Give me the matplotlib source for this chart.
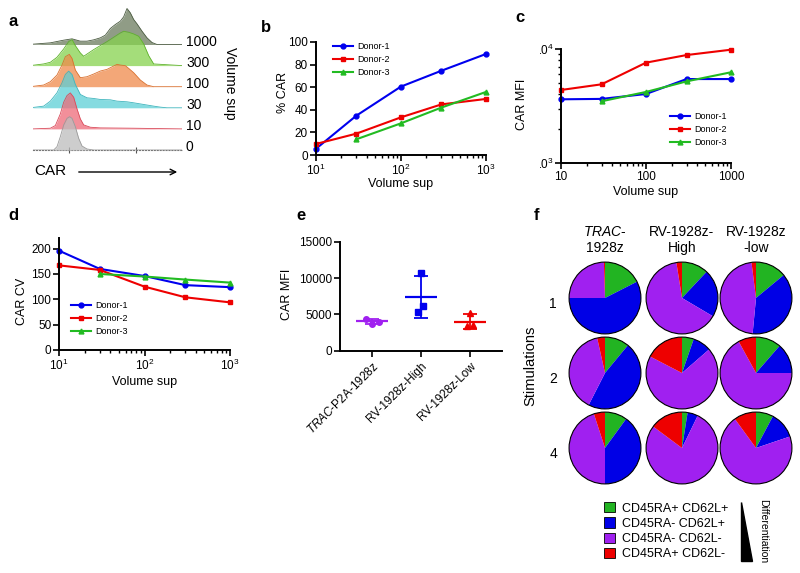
import numpy as np
import matplotlib
matplotlib.use("Agg")
import matplotlib.pyplot as plt
from matplotlib.patches import Patch, Polygon, Circle, FancyArrowPatch
from matplotlib.ticker import FuncFormatter, NullFormatter
from matplotlib.transforms import Bbox, TransformedBbox

plt.rcParams['font.family'] = ['Liberation Sans', 'DejaVu Sans']
plt.rcParams['mathtext.fontset'] = 'custom'
plt.rcParams['mathtext.rm'] = 'Liberation Sans'
plt.rcParams['mathtext.it'] = 'Liberation Sans:italic'

# ---------------- data ----------------
volume = [10, 30, 100, 300, 1000]

# panel a: histogram outlines (log10 CAR, height)
ridge_labels = ['0', '10', '30', '100', '300', '1000']
h0_x = [0.91, 1.53, 1.63, 1.73, 1.83, 1.93, 2.01, 2.08, 2.18, 2.28, 2.38, 2.53, 2.73, 5.38]
h0_y = [0, 0, 10, 40, 75, 95, 100, 95, 70, 35, 12, 3, 0, 0]
h10_x = [0.91, 1.43, 1.58, 1.73, 1.83, 1.93, 2.03, 2.13, 2.23, 2.33, 2.43, 2.63, 2.93, 3.93, 5.38]
h10_y = [0, 2, 10, 45, 80, 100, 108, 95, 60, 30, 12, 5, 3, 2, 0]
h30_x = [0.91, 1.23, 1.43, 1.63, 1.78, 1.88, 1.98, 2.08, 2.18, 2.33, 2.53, 2.73, 2.93, 3.23,
         3.43, 3.73, 3.93, 4.23, 4.53, 4.73, 4.93, 5.38]
h30_y = [1, 5, 20, 45, 75, 100, 110, 100, 70, 40, 30, 28, 25, 24, 20, 18, 15, 10, 5, 2, 0, 0]
h100_x = [0.91, 1.23, 1.43, 1.63, 1.78, 1.88, 2.0, 2.08, 2.18, 2.33, 2.53, 2.73, 2.93, 3.13,
          3.33, 3.43, 3.53, 3.68, 3.78, 3.93, 4.13, 4.33, 4.53, 5.38]
h100_y = [1, 5, 15, 35, 65, 90, 97, 85, 50, 27, 30, 38, 47, 52, 62, 67, 65, 63, 55, 42, 20, 5, 0, 0]
h300_x = [0.91, 1.23, 1.43, 1.63, 1.83, 1.98, 2.08, 2.18, 2.33, 2.43, 2.58, 2.73, 2.93, 3.13,
          3.33, 3.53, 3.63, 3.78, 3.93, 4.08, 4.23, 4.38, 4.53, 5.38]
h300_y = [1, 5, 10, 25, 50, 72, 78, 60, 38, 28, 38, 48, 60, 72, 85, 98, 103, 100, 95, 88, 65, 30, 5, 0]
h1000_x = [0.91, 1.43, 1.83, 2.08, 2.33, 2.53, 2.73, 2.93, 3.08, 3.23, 3.38, 3.53, 3.63, 3.73,
           3.83, 3.93, 4.03, 4.18, 4.33, 4.48, 4.63, 5.38]
h1000_y = [1, 5, 13, 17, 10, 10, 14, 20, 28, 48, 60, 70, 83, 108, 95, 75, 62, 40, 20, 6, 0, 0]
ridge_face = ['#BDBDBD', '#EE6A78', '#5CCFD6', '#F08A4B', '#86D24E', '#6B7B5E']
ridge_edge = ['#9A9A9A', '#D94A5A', '#3FB5BD', '#D9702F', '#5FB22C', '#4A5A40']

# panel b: % CAR
car_pct_d1 = [5.3, 34.8, 60.5, 74.6, 89.4]
car_pct_d2 = [9.7, 18.9, 33.3, 44.8, 49.6]
car_pct_d3 = [13.9, 28.0, 42.0, 55.8]

# panel c: CAR MFI
car_mfi_d1 = [3620, 3650, 4030, 5450, 5450]
car_mfi_d2 = [4370, 4900, 7590, 8850, 9860]
car_mfi_d3 = [3480, 4200, 5200, 6250]

# panel d: CAR CV
car_cv_d1 = [196, 160, 146, 128, 124]
car_cv_d2 = [167, 158, 125, 104, 94]
car_cv_d3 = [150, 145, 139, 133]

donors = ['Donor-1', 'Donor-2', 'Donor-3']
donor_colors = ['#0000EE', '#EE0000', '#22BB22']
donor_markers = ['o', 's', '^']

# panel e: CAR MFI per construct
constructs = [r'$\mathit{TRAC}$-P2A-1928z', 'RV-1928z-High', 'RV-1928z-Low']
mfi_trac = [4370, 3720, 3990]
mfi_high = [10740, 6150, 5330]
mfi_low = [5150, 3360, 3500]
jitter_trac = [-0.13, 0.0, 0.14]
jitter_high = [0.0, 0.05, -0.07]
jitter_low = [0.0, -0.06, 0.06]
construct_colors = ['#A020F0', '#0000EE', '#EE0000']

# panel f: subsets (%), order: RA+62L+, RA-62L+, RA-62L-, RA+62L-
pie_headers = [r'$\mathit{TRAC}$-' + '\n1928z', 'RV-1928z-\nHigh', 'RV-1928z\n-low']
stim_labels = ['1', '2', '4']
trac_stim1 = [17.5, 57.5, 24.5, 0.5]
trac_stim2 = [11.0, 46.5, 39.0, 3.5]
trac_stim4 = [10.0, 40.0, 45.0, 5.0]
high_stim1 = [12.0, 21.5, 64.0, 2.5]
high_stim2 = [5.3, 8.3, 69.0, 17.4]
high_stim4 = [2.5, 4.7, 78.0, 14.8]
low_stim1 = [14.0, 37.5, 46.5, 2.0]
low_stim2 = [11.4, 13.6, 67.0, 8.0]
low_stim4 = [7.8, 12.0, 70.2, 10.0]
subset_labels = ['CD45RA+ CD62L+', 'CD45RA- CD62L+', 'CD45RA- CD62L-', 'CD45RA+ CD62L-']
subset_colors = ['#22B422', '#0000E6', '#A020F0', '#EE0000']

# ---------------- layout helpers ----------------
W, H = 800, 573
fig = plt.figure(figsize=(8, 5.73), dpi=100)


def rect(x0, y0, x1, y1):
    return [x0 / W, 1 - y1 / H, (x1 - x0) / W, (y1 - y0) / H]


def fx(x):
    return x / W


def fy(y):
    return 1 - y / H


def style_axes(ax):
    for s in ['top', 'right']:
        ax.spines[s].set_visible(False)
    for s in ['left', 'bottom']:
        ax.spines[s].set_linewidth(1.4)
    ax.tick_params(which='major', length=4, width=1.2, labelsize=8.5, pad=1.5)
    ax.tick_params(which='minor', length=2.5, width=1.0)


def donor_legend(ax, x, y):
    ax.legend(loc='upper left', bbox_to_anchor=(fx(x), fy(y)), bbox_transform=fig.transFigure,
              frameon=False, fontsize=6.5, handlelength=2.2, handletextpad=0.5,
              labelspacing=0.45, borderpad=0, borderaxespad=0)


# panel letters
for lab, px, py in [('a', 13, 22), ('b', 266, 28), ('c', 520, 18),
                    ('d', 13, 215), ('e', 301, 216), ('f', 537, 216)]:
    fig.text(fx(px), fy(py), lab, fontsize=12, fontweight='bold', ha='center', va='center')

# ---------------- panel a ----------------
ax_a = fig.add_axes(rect(33, 5, 182, 150))
ridge_x = [h0_x, h10_x, h30_x, h100_x, h300_x, h1000_x]
ridge_y = [h0_y, h10_y, h30_y, h100_y, h300_y, h1000_y]
step = 21.1
for i in reversed(range(6)):
    off = i * step
    xs = 10 ** np.array(ridge_x[i])
    ys = off + np.array(ridge_y[i]) / 3.0
    ax_a.fill_between(xs, off, ys, color=ridge_face[i], alpha=0.75, lw=0, zorder=10 - i)
    ax_a.plot(xs, ys, color=ridge_edge[i], lw=0.6, zorder=10 - i)
    fig.text(fx(186), fy(150 - off - 3), ridge_labels[i], fontsize=10, ha='left', va='center')
ax_a.set_xscale('log')
ax_a.set_xlim(10 ** 0.91, 10 ** 5.38)
ax_a.set_ylim(0, 145)
for s in ['top', 'right', 'left']:
    ax_a.spines[s].set_visible(False)
ax_a.spines['bottom'].set_color('#777777')
ax_a.spines['bottom'].set_linestyle(':')
ax_a.spines['bottom'].set_linewidth(0.8)
ax_a.set_yticks([])
ax_a.tick_params(which='major', direction='inout', length=4, width=0.8, color='#555555',
                 labelbottom=False)
ax_a.tick_params(which='minor', direction='inout', length=2, width=0.6, color='#777777')
ax_a.patch.set_alpha(0)
fig.text(fx(230), fy(83), 'Volume sup', fontsize=10, rotation=270, ha='center', va='center')
fig.text(fx(34), fy(171), 'CAR', fontsize=11, ha='left', va='center')
fig.add_artist(FancyArrowPatch((fx(76), fy(172)), (fx(180), fy(172)), transform=fig.transFigure,
                               arrowstyle='->', mutation_scale=10, lw=1.0, color='black'))

# ---------------- panel b ----------------
ax_b = fig.add_axes(rect(315.7, 42, 486, 155))
ax_b.plot(volume, car_pct_d1, color=donor_colors[0], marker='o', ms=3.5, lw=1.5, label=donors[0], clip_on=False)
ax_b.plot(volume, car_pct_d2, color=donor_colors[1], marker='s', ms=3.5, lw=1.5, label=donors[1], clip_on=False)
ax_b.plot(volume[1:], car_pct_d3, color=donor_colors[2], marker='^', ms=3.5, lw=1.5, label=donors[2], clip_on=False)
ax_b.set_xscale('log')
ax_b.set_xlim(10, 1000)
ax_b.set_ylim(0, 100)
ax_b.set_yticks([0, 20, 40, 60, 80, 100])
style_axes(ax_b)
donor_legend(ax_b, 333, 42)
fig.text(fx(283), fy(92), '% CAR', fontsize=9, rotation=90, ha='center', va='center')
fig.text(fx(401), fy(184), 'Volume sup', fontsize=9, ha='center', va='center')

# ---------------- panel c ----------------
ax_c = fig.add_axes(rect(561, 49, 731, 163))
ax_c.plot(volume, car_mfi_d1, color=donor_colors[0], marker='o', ms=3.5, lw=1.5, label=donors[0], clip_on=False)
ax_c.plot(volume, car_mfi_d2, color=donor_colors[1], marker='s', ms=3.5, lw=1.5, label=donors[1], clip_on=False)
ax_c.plot(volume[1:], car_mfi_d3, color=donor_colors[2], marker='^', ms=3.5, lw=1.5, label=donors[2], clip_on=False)
ax_c.set_xscale('log')
ax_c.set_yscale('log')
ax_c.set_xlim(10, 1000)
ax_c.set_ylim(1000, 10000)
ax_c.xaxis.set_major_formatter(FuncFormatter(lambda v, p: f'{v:g}'))
ax_c.xaxis.set_minor_formatter(NullFormatter())
ax_c.yaxis.set_minor_formatter(NullFormatter())
style_axes(ax_c)
donor_legend(ax_c, 670, 112)
fig.text(fx(522), fy(104), 'CAR MFI', fontsize=9, rotation=90, ha='center', va='center')
fig.text(fx(646), fy(192), 'Volume sup', fontsize=9, ha='center', va='center')

# ---------------- panel d ----------------
ax_d = fig.add_axes(rect(59, 238, 230, 350))
ax_d.plot(volume, car_cv_d1, color=donor_colors[0], marker='o', ms=3.5, lw=1.5, label=donors[0], clip_on=False)
ax_d.plot(volume, car_cv_d2, color=donor_colors[1], marker='s', ms=3.5, lw=1.5, label=donors[1], clip_on=False)
ax_d.plot(volume[1:], car_cv_d3, color=donor_colors[2], marker='^', ms=3.5, lw=1.5, label=donors[2], clip_on=False)
ax_d.set_xscale('log')
ax_d.set_xlim(10, 1000)
ax_d.set_ylim(0, 221)
ax_d.set_yticks([0, 50, 100, 150, 200])
style_axes(ax_d)
donor_legend(ax_d, 71, 301)
fig.text(fx(22), fy(301), 'CAR CV', fontsize=9, rotation=90, ha='center', va='center')
fig.text(fx(145), fy(382), 'Volume sup', fontsize=9, ha='center', va='center')

# ---------------- panel e ----------------
ax_e = fig.add_axes(rect(340, 241.7, 502, 350.7))
groups = [mfi_trac, mfi_high, mfi_low]
jitters = [jitter_trac, jitter_high, jitter_low]
for i, (vals, jit, m) in enumerate(zip(groups, jitters, donor_markers)):
    vals = np.array(vals)
    mean, sd = vals.mean(), vals.std(ddof=1)
    col = construct_colors[i]
    ax_e.errorbar(i, mean, yerr=sd, fmt='none', ecolor=col, elinewidth=1.3, capsize=5, capthick=1.3)
    ax_e.hlines(mean, i - 0.33, i + 0.33, color=col, lw=1.6)
    ax_e.plot(i + np.array(jit), vals, ls='none', marker=m, ms=4, color=col)
ax_e.set_xlim(-0.65, 2.65)
ax_e.set_ylim(0, 15000)
ax_e.set_yticks([0, 5000, 10000, 15000])
ax_e.set_xticks(range(3))
ax_e.set_xticklabels(constructs, rotation=45, ha='right', rotation_mode='anchor')
style_axes(ax_e)
ax_e.tick_params(axis='x', labelsize=8.5, pad=3)
fig.text(fx(287), fy(294), 'CAR MFI', fontsize=9, rotation=90, ha='center', va='center')

# ---------------- panel f ----------------
col_x = [605, 682, 756]
row_y = [298, 373, 448]
pie_data = [[trac_stim1, trac_stim2, trac_stim4],
            [high_stim1, high_stim2, high_stim4],
            [low_stim1, low_stim2, low_stim4]]
for c, cx in enumerate(col_x):
    fig.text(fx(cx), fy(240), pie_headers[c], fontsize=10, ha='center', va='center', linespacing=1.1)
    for r, cy in enumerate(row_y):
        ax = fig.add_axes(rect(cx - 37, cy - 37, cx + 37, cy + 37))
        ax.pie(pie_data[c][r], colors=subset_colors, startangle=90, counterclock=False,
               wedgeprops=dict(linewidth=0))
        ax.add_patch(Circle((0, 0), 1, fill=False, ec='black', lw=0.8))
        ax.set_xlim(-1.03, 1.03)
        ax.set_ylim(-1.03, 1.03)
        ax.set_aspect('equal')
        ax.axis('off')
for r, cy in enumerate(row_y):
    fig.text(fx(553), fy(cy + 6), stim_labels[r], fontsize=10, ha='center', va='center')
fig.text(fx(530), fy(366), 'Stimulations', fontsize=10.5, rotation=90, ha='center', va='center')

handles = [Patch(facecolor=c, edgecolor='black', lw=0.6) for c in subset_colors]
fig.legend(handles=handles, labels=subset_labels, loc='upper left',
           bbox_to_anchor=(fx(604), fy(502)), frameon=False, fontsize=9,
           handlelength=0.9, handleheight=0.9, handletextpad=0.5, labelspacing=0.22,
           borderpad=0, borderaxespad=0)
fig.add_artist(Polygon([(fx(741), fy(502)), (fx(741), fy(561)), (fx(752), fy(561))],
                       closed=True, transform=fig.transFigure, facecolor='black', edgecolor='black'))
fig.text(fx(763), fy(531), 'Differentiation', fontsize=7.5, rotation=270, ha='center', va='center')

# clip the y tick labels of panel c at the panel edge, as in the source figure
fig.canvas.draw()
clip = TransformedBbox(Bbox([[540 / W, 0], [1, 1]]), fig.transFigure)
for lbl in ax_c.get_yticklabels():
    lbl.set_clip_box(clip)
    lbl.set_clip_on(True)

fig.savefig('out.png', dpi=100)
